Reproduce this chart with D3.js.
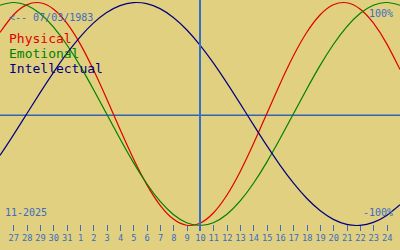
<!DOCTYPE html>
<html><head><meta charset="utf-8">
<script src="https://cdn.jsdelivr.net/npm/d3@7"></script>
<style>html,body{margin:0;padding:0;background:#e0d080;overflow:hidden}</style>
</head><body><svg id="c" width="400" height="250"></svg>
<script>
// Dates shown: Oct 26 .. Nov 25, 2025 (one point per day)
const days = ["26","27","28","29","30","31","1","2","3","4","5","6","7","8","9","10",
  "11","12","13","14","15","16","17","18","19","20","21","22","23","24","25"];
const physical = [0.7308,0.8879,0.9791,0.9977,0.9423,0.8170,0.6311,0.3984,0.1362,-0.1362,
  -0.3984,-0.6311,-0.8170,-0.9423,-0.9977,-0.9791,-0.8879,-0.7308,-0.5196,-0.2698,
  0,0.2698,0.5196,0.7308,0.8879,0.9791,0.9977,0.9423,0.8170,0.6311,0.3984];
const emotional = [0.9749,1,0.9749,0.9010,0.7818,0.6235,0.4339,0.2225,0,-0.2225,
  -0.4339,-0.6235,-0.7818,-0.9010,-0.9749,-1,-0.9749,-0.9010,-0.7818,-0.6235,
  -0.4339,-0.2225,0,0.2225,0.4339,0.6235,0.7818,0.9010,0.9749,1,0.9749];
const intellectual = [-0.3717,-0.1893,0,0.1893,0.3717,0.5406,0.6901,0.8146,0.9096,0.9718,
  0.9989,0.9898,0.9450,0.8660,0.7557,0.6182,0.4582,0.2817,0.0951,-0.0951,
  -0.2817,-0.4582,-0.6182,-0.7557,-0.8660,-0.9450,-0.9898,-0.9989,-0.9718,-0.9096,-0.8146];
const seriesNames = ["Physical","Emotional","Intellectual"];
const seriesColors = ["#e00000","#008000","#000080"];
const tickIdx = d3.range(1, 30);
const todayIdx = 15;
const birthLabel = "<-- 07/03/1983";
const monthLabel = "11-2025";
const topLabel = "100%";
const bottomLabel = "-100%";

const W = 400, H = 250;
const bg = "#e0d080", blue = "#3a6cc4";
const svg = d3.select("#c");
svg.append("rect").attr("width", W).attr("height", H).attr("fill", bg);

const x = d3.scaleLinear().domain([0, days.length - 1]).range([0, W]);
const y = d3.scaleLinear().domain([-1, 1]).range([225.5, 2.5]);

// zero line
svg.append("rect").attr("x", 0).attr("y", 114.5).attr("width", W).attr("height", 1.5)
  .attr("fill", "#3464b4");

const mono = "'DejaVu Sans Mono', monospace";

// axis
const axis = d3.axisBottom(x).tickValues(tickIdx).tickFormat(i => days[i]).tickSize(6);
const gA = svg.append("g").attr("transform", "translate(0,225)").call(axis);
gA.select(".domain").remove();
gA.selectAll(".tick line").attr("stroke", blue).attr("shape-rendering", "crispEdges");
gA.selectAll(".tick text").attr("fill", blue).attr("y", 16).attr("dy", null)
  .attr("font-family", mono).attr("font-size", 8.7);

// series
const series = [physical, emotional, intellectual];
const line = d3.line().x((d, i) => x(i)).y(d => y(d)).curve(d3.curveNatural);
series.forEach((s, k) => {
  svg.append("path").attr("d", line(s)).attr("fill", "none")
    .attr("stroke", seriesColors[k]).attr("stroke-width", 1.2);
});

// today line
svg.append("rect").attr("x", x(todayIdx) - 1).attr("y", 0).attr("width", 2).attr("height", 231)
  .attr("fill", "#3070cc").attr("shape-rendering", "crispEdges");

// labels
svg.append("text").attr("x", 9).attr("y", 21).attr("fill", blue)
  .attr("font-family", mono).attr("font-size", 10).text(birthLabel);
seriesNames.forEach((n, k) => {
  svg.append("text").attr("x", 9).attr("y", 43 + 15 * k).attr("fill", seriesColors[k])
    .attr("font-family", mono).attr("font-size", 13).text(n);
});
svg.append("text").attr("x", 393).attr("y", 16.5).attr("text-anchor", "end").attr("fill", blue)
  .attr("font-family", mono).attr("font-size", 10).text(topLabel);
svg.append("text").attr("x", 393).attr("y", 216).attr("text-anchor", "end").attr("fill", blue)
  .attr("font-family", mono).attr("font-size", 10).text(bottomLabel);
svg.append("text").attr("x", 5).attr("y", 216).attr("fill", blue)
  .attr("font-family", mono).attr("font-size", 10).text(monthLabel);
</script></body></html>
